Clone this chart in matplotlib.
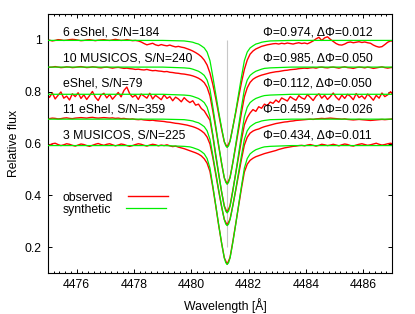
import numpy as np
import matplotlib
matplotlib.use('Agg')
import matplotlib.pyplot as plt
from matplotlib.ticker import MultipleLocator

# Mg II 4481 profiles: observed (red) and synthetic (green), shifted vertically

plt.rcParams['font.family'] = ['Liberation Sans', 'DejaVu Sans']
plt.rcParams['font.size'] = 8.8

# ---------- data ----------
# observed spectra sampled every 0.1 A from 4474.95 to 4487.05
wl_obs = np.round(4474.95 + 0.1 * np.arange(122), 2)

obs1 = [1.000, 0.999, 0.996, 0.998, 1.001, 1.000, 0.998, 0.999, 1.001, 1.002,
        1.001, 0.999, 0.997, 0.998, 1.000, 1.001, 0.999, 0.997, 0.999, 1.000,
        1.001, 0.999, 0.998, 1.000, 1.002, 1.000, 0.998, 0.999, 1.001, 0.999,
        0.997, 0.998, 0.996, 0.992, 0.986, 0.981, 0.984, 0.987, 0.981, 0.978,
        0.982, 0.979, 0.977, 0.980, 0.976, 0.973, 0.975, 0.972, 0.970, 0.966,
        0.962, 0.957, 0.951, 0.944, 0.935, 0.922, 0.903, 0.872, 0.828, 0.775,
        0.716, 0.658, 0.606, 0.586, 0.610, 0.664, 0.720, 0.780, 0.836, 0.886,
        0.922, 0.945, 0.957, 0.965, 0.970, 0.975, 0.978, 0.981, 0.983, 0.985,
        0.986, 0.984, 0.987, 0.985, 0.988, 0.986, 0.984, 0.987, 0.989, 0.986,
        0.988, 0.985, 0.990, 0.996, 1.004, 1.010, 0.998, 1.008, 1.012, 1.002,
        0.994, 0.986, 0.981, 0.980, 0.984, 0.990, 0.992, 0.989, 0.991, 0.993,
        0.990, 0.992, 0.989, 0.987, 0.980, 0.975, 0.972, 0.974, 0.982, 0.991,
        0.996, 0.995]

obs2 = [0.896, 0.894, 0.895, 0.897, 0.895, 0.893, 0.894, 0.896, 0.895, 0.893,
        0.894, 0.896, 0.897, 0.895, 0.893, 0.894, 0.896, 0.895, 0.893, 0.892,
        0.894, 0.895, 0.893, 0.891, 0.893, 0.894, 0.892, 0.890, 0.891, 0.889,
        0.888, 0.886, 0.887, 0.885, 0.884, 0.886, 0.883, 0.881, 0.882, 0.880,
        0.879, 0.877, 0.878, 0.875, 0.874, 0.872, 0.871, 0.869, 0.868, 0.866,
        0.864, 0.861, 0.857, 0.852, 0.845, 0.835, 0.817, 0.784, 0.725, 0.660,
        0.592, 0.526, 0.467, 0.444, 0.469, 0.527, 0.590, 0.655, 0.720, 0.780,
        0.815, 0.836, 0.848, 0.855, 0.860, 0.864, 0.867, 0.870, 0.873, 0.875,
        0.877, 0.878, 0.880, 0.882, 0.883, 0.885, 0.886, 0.887, 0.889, 0.890,
        0.891, 0.890, 0.892, 0.893, 0.891, 0.894, 0.895, 0.893, 0.892, 0.894,
        0.895, 0.893, 0.891, 0.894, 0.896, 0.893, 0.892, 0.890, 0.893, 0.895,
        0.894, 0.892, 0.895, 0.893, 0.890, 0.892, 0.894, 0.896, 0.893, 0.891,
        0.893, 0.894]

obs3 = [0.790, 0.778, 0.795, 0.772, 0.786, 0.799, 0.775, 0.783, 0.768, 0.792,
        0.781, 0.796, 0.774, 0.788, 0.770, 0.785, 0.801, 0.779, 0.766, 0.787,
        0.794, 0.776, 0.789, 0.771, 0.784, 0.797, 0.780, 0.805, 0.818, 0.792,
        0.779, 0.787, 0.770, 0.791, 0.783, 0.775, 0.794, 0.772, 0.786, 0.778,
        0.769, 0.788, 0.774, 0.781, 0.765, 0.779, 0.772, 0.761, 0.777, 0.766,
        0.758, 0.765, 0.748, 0.752, 0.735, 0.726, 0.708, 0.690, 0.628, 0.552,
        0.484, 0.416, 0.359, 0.334, 0.360, 0.421, 0.485, 0.550, 0.615, 0.672,
        0.700, 0.718, 0.731, 0.724, 0.742, 0.736, 0.752, 0.746, 0.760, 0.755,
        0.768, 0.759, 0.776, 0.770, 0.764, 0.781, 0.773, 0.767, 0.785, 0.776,
        0.771, 0.789, 0.778, 0.766, 0.783, 0.792, 0.775, 0.786, 0.770, 0.781,
        0.795, 0.779, 0.768, 0.787, 0.774, 0.790, 0.782, 0.769, 0.793, 0.777,
        0.784, 0.772, 0.791, 0.780, 0.767, 0.786, 0.775, 0.795, 0.781, 0.788,
        0.800, 0.785]

obs4 = [0.697, 0.696, 0.698, 0.697, 0.695, 0.696, 0.698, 0.699, 0.697, 0.696,
        0.698, 0.699, 0.700, 0.699, 0.698, 0.700, 0.701, 0.699, 0.698, 0.699,
        0.700, 0.699, 0.698, 0.699, 0.697, 0.698, 0.696, 0.697, 0.695, 0.694,
        0.695, 0.693, 0.692, 0.693, 0.691, 0.690, 0.689, 0.690, 0.688, 0.687,
        0.686, 0.685, 0.683, 0.682, 0.680, 0.678, 0.677, 0.675, 0.673, 0.671,
        0.668, 0.665, 0.661, 0.656, 0.649, 0.640, 0.625, 0.598, 0.545, 0.482,
        0.419, 0.359, 0.307, 0.285, 0.308, 0.362, 0.420, 0.481, 0.540, 0.594,
        0.624, 0.640, 0.648, 0.653, 0.656, 0.661, 0.665, 0.668, 0.671, 0.674,
        0.677, 0.679, 0.681, 0.683, 0.684, 0.686, 0.687, 0.689, 0.690, 0.691,
        0.692, 0.693, 0.694, 0.693, 0.695, 0.696, 0.697, 0.696, 0.697, 0.698,
        0.697, 0.696, 0.695, 0.694, 0.695, 0.693, 0.692, 0.691, 0.692, 0.693,
        0.692, 0.691, 0.690, 0.689, 0.690, 0.691, 0.692, 0.693, 0.692, 0.693,
        0.694, 0.695]

obs5 = [0.597, 0.594, 0.599, 0.601, 0.596, 0.592, 0.595, 0.599, 0.597, 0.593,
        0.590, 0.594, 0.598, 0.596, 0.592, 0.589, 0.593, 0.597, 0.600, 0.596,
        0.593, 0.597, 0.599, 0.595, 0.591, 0.594, 0.598, 0.596, 0.592, 0.589,
        0.592, 0.596, 0.599, 0.597, 0.593, 0.590, 0.594, 0.597, 0.595, 0.591,
        0.594, 0.592, 0.595, 0.591, 0.588, 0.590, 0.586, 0.583, 0.580, 0.576,
        0.572, 0.568, 0.564, 0.559, 0.552, 0.541, 0.524, 0.492, 0.430, 0.360,
        0.287, 0.219, 0.159, 0.134, 0.160, 0.223, 0.291, 0.360, 0.428, 0.490,
        0.520, 0.535, 0.543, 0.549, 0.553, 0.557, 0.561, 0.564, 0.567, 0.570,
        0.573, 0.577, 0.580, 0.583, 0.585, 0.587, 0.589, 0.590, 0.592, 0.593,
        0.591, 0.594, 0.596, 0.593, 0.590, 0.593, 0.597, 0.595, 0.592, 0.594,
        0.597, 0.594, 0.591, 0.595, 0.598, 0.596, 0.592, 0.590, 0.594, 0.597,
        0.599, 0.596, 0.593, 0.595, 0.598, 0.601, 0.597, 0.594, 0.596, 0.599,
        0.601, 0.598]

# synthetic spectra
wl_syn = [4475.0, 4477.0, 4479.0, 4479.75, 4479.95, 4480.05, 4480.15, 4480.25,
          4480.35, 4480.45, 4480.55, 4480.65, 4480.75, 4480.85, 4480.95, 4481.05,
          4481.1, 4481.15, 4481.2, 4481.25, 4481.3, 4481.35, 4481.4, 4481.45,
          4481.55, 4481.65, 4481.75, 4481.85, 4481.95, 4482.05, 4482.15, 4482.25,
          4482.35, 4482.45, 4482.55, 4482.75, 4483.5, 4485.0, 4487.0]

syn1 = [0.998, 0.998, 0.998, 0.996, 0.993, 0.991, 0.987, 0.984, 0.977, 0.969,
        0.953, 0.920, 0.858, 0.792, 0.725, 0.664, 0.635, 0.608, 0.591, 0.585,
        0.591, 0.608, 0.635, 0.664, 0.725, 0.792, 0.858, 0.920, 0.953, 0.969,
        0.977, 0.984, 0.987, 0.991, 0.993, 0.996, 0.998, 0.998, 0.998]
syn2 = [0.895, 0.895, 0.895, 0.892, 0.890, 0.887, 0.883, 0.879, 0.872, 0.863,
        0.845, 0.809, 0.741, 0.669, 0.597, 0.529, 0.497, 0.468, 0.450, 0.443,
        0.450, 0.468, 0.497, 0.529, 0.597, 0.669, 0.741, 0.809, 0.845, 0.863,
        0.872, 0.879, 0.883, 0.887, 0.890, 0.892, 0.895, 0.895, 0.895]
syn3 = [0.790, 0.790, 0.790, 0.787, 0.785, 0.782, 0.778, 0.774, 0.767, 0.758,
        0.740, 0.703, 0.634, 0.561, 0.488, 0.419, 0.387, 0.357, 0.339, 0.332,
        0.339, 0.357, 0.387, 0.419, 0.488, 0.561, 0.634, 0.703, 0.740, 0.758,
        0.767, 0.774, 0.778, 0.782, 0.785, 0.787, 0.790, 0.790, 0.790]
syn4 = [0.694, 0.694, 0.694, 0.692, 0.689, 0.687, 0.683, 0.680, 0.673, 0.665,
        0.649, 0.616, 0.554, 0.489, 0.423, 0.361, 0.332, 0.306, 0.289, 0.283,
        0.289, 0.306, 0.332, 0.361, 0.423, 0.489, 0.554, 0.616, 0.649, 0.665,
        0.673, 0.680, 0.683, 0.687, 0.689, 0.692, 0.694, 0.694, 0.694]
syn5 = [0.592, 0.592, 0.592, 0.589, 0.587, 0.584, 0.580, 0.576, 0.569, 0.560,
        0.542, 0.505, 0.436, 0.363, 0.289, 0.220, 0.188, 0.158, 0.140, 0.133,
        0.140, 0.158, 0.188, 0.220, 0.289, 0.363, 0.436, 0.505, 0.542, 0.560,
        0.569, 0.576, 0.580, 0.584, 0.587, 0.589, 0.592, 0.592, 0.592]

left_labels = ['6 eShel, S/N=184', '10 MUSICOS, S/N=240', 'eShel, S/N=79',
               '11 eShel, S/N=359', '3 MUSICOS, S/N=225']
right_labels = ['Φ=0.974, ΔΦ=0.012', 'Φ=0.985, ΔΦ=0.050', 'Φ=0.112, ΔΦ=0.050',
                'Φ=0.459, ΔΦ=0.026', 'Φ=0.434, ΔΦ=0.011']
label_y = [1.030, 0.930, 0.830, 0.733, 0.629]

line_center = 4481.25
xticks = [4476, 4478, 4480, 4482, 4484, 4486]
yticks = [0.2, 0.4, 0.6, 0.8, 1.0]
ytick_labels = ['0.2', '0.4', '0.6', '0.8', '1']

# ---------- figure ----------
fig = plt.figure(figsize=(4.15, 3.14), dpi=100)
ax = fig.add_axes([48/415, 1 - 273/314, 344/415, 259/314])

ax.vlines(line_center, 0.2, 1.0, color='#c8c8c8', lw=0.8, zorder=1)

red = '#ff0000'
green = '#00ee00'
for i, (o, s) in enumerate(zip([obs1, obs2, obs3, obs4, obs5],
                               [syn1, syn2, syn3, syn4, syn5])):
    ax.plot(wl_obs, o, color=red, lw=1.0, zorder=2,
            label='observed' if i == 0 else None)
    ax.plot(wl_syn, s, color=green, lw=0.9, zorder=3,
            label='synthetic' if i == 0 else None)

for txt, y in zip(left_labels, label_y):
    ax.text(4475.52, y, txt, ha='left', va='center')
for txt, y in zip(right_labels, label_y):
    ax.text(4482.51, y, txt, ha='left', va='center')

ax.set_xlim(4475, 4487)
ax.set_ylim(0.1, 1.1)
ax.set_xticks(xticks, labels=[str(t) for t in xticks])
ax.set_yticks(yticks, labels=ytick_labels)
ax.xaxis.set_minor_locator(MultipleLocator(0.2))
ax.tick_params(which='both', direction='in', top=True, right=True, width=0.7)
ax.tick_params(which='major', length=2.6)
ax.tick_params(which='minor', length=1.3)
ax.tick_params(axis='y', pad=4.5)
ax.tick_params(axis='x', pad=4.5)
for sp in ax.spines.values():
    sp.set_linewidth(0.8)

ax.set_xlabel('Wavelength [Å]')
ax.set_ylabel('Relative flux')
ax.xaxis.set_label_coords(0.517, -0.124)
ax.yaxis.set_label_coords(-0.1, 0.5)
ax.xaxis.label.set_va('center')
ax.yaxis.label.set_va('center')

leg = ax.legend(loc='upper left', bbox_to_anchor=(0.0436, 0.314), frameon=False,
                markerfirst=False, handlelength=3.3, handletextpad=1.2,
                labelspacing=0.0, borderpad=0, borderaxespad=0)
# text starts at the same x for both entries, as in the reference key
leg._legend_handle_box.get_children()[0].align = 'left'

fig.savefig('out.png', dpi=100)
